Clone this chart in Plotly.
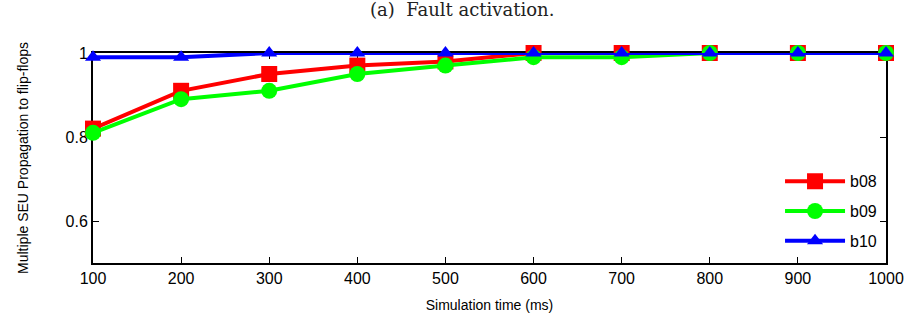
import plotly.graph_objects as go

times = [100, 200, 300, 400, 500, 600, 700, 800, 900, 1000]
b08 = [0.82, 0.91, 0.95, 0.97, 0.98, 1.0, 1.0, 1.0, 1.0, 1.0]
b09 = [0.81, 0.89, 0.91, 0.95, 0.97, 0.99, 0.99, 1.0, 1.0, 1.0]
b10 = [0.99, 0.99, 1.0, 1.0, 1.0, 1.0, 1.0, 1.0, 1.0, 1.0]
y_ticks = [0.6, 0.8, 1.0]
y_labels = ["0.6", "0.8", "1"]

fig = go.Figure()
fig.add_trace(go.Scatter(x=times, y=b08, name="b08", mode="lines+markers", legendgroup="a",
                         cliponaxis=False,
                         line=dict(color="#ff0000", width=4),
                         marker=dict(symbol="square", size=16, color="#ff0000")))
fig.add_trace(go.Scatter(x=times, y=b09, name="b09", mode="lines+markers", legendgroup="b",
                         cliponaxis=False,
                         line=dict(color="#00ff00", width=4),
                         marker=dict(symbol="circle", size=16, color="#00ff00")))
fig.add_trace(go.Scatter(x=times, y=b10, name="b10", mode="lines+markers", legendgroup="c",
                         cliponaxis=False,
                         line=dict(color="#0000ff", width=4),
                         marker=dict(symbol="triangle-up", size=14, color="#0000ff")))

sans = "Liberation Sans, Arial, sans-serif"
axis_font = dict(family=sans, size=16, color="black")
fig.update_layout(
    width=916, height=325,
    margin=dict(l=93, r=26, t=53, b=62),
    paper_bgcolor="white", plot_bgcolor="white",
    showlegend=True,
    legend=dict(x=0.995, y=0.47, xanchor="right", yanchor="top",
                font=dict(family=sans, size=16, color="black"),
                bgcolor="rgba(0,0,0,0)", tracegroupgap=6, itemwidth=60),
    xaxis=dict(range=[100, 1000], tickvals=times, ticks="inside", ticklen=6,
               tickcolor="black", showline=True, linecolor="black", linewidth=2,
               mirror="ticks", showgrid=False, zeroline=False, tickfont=axis_font,
               title=dict(text="Simulation time (ms)",
                          font=dict(family=sans, size=14, color="black"),
                          standoff=14)),
    yaxis=dict(range=[0.5, 1.0], tickvals=y_ticks, ticktext=y_labels, ticks="inside",
               ticklen=6, tickcolor="black", showline=True, linecolor="black", linewidth=2,
               mirror="ticks", showgrid=False, zeroline=False, tickfont=axis_font,
               title=dict(text="Multiple SEU Propagation to flip-flops",
                          font=dict(family=sans, size=14, color="black"),
                          standoff=34)),
)
fig.update_xaxes(layer="below traces")
fig.update_yaxes(layer="below traces")
fig.add_annotation(text="(a)  Fault activation.", xref="paper", yref="paper",
                   x=0.465, y=1, yanchor="middle", yshift=44, showarrow=False,
                   font=dict(family="DejaVu Serif, Liberation Serif, serif", size=18, color="#222222"))

fig.write_html("out.html")
